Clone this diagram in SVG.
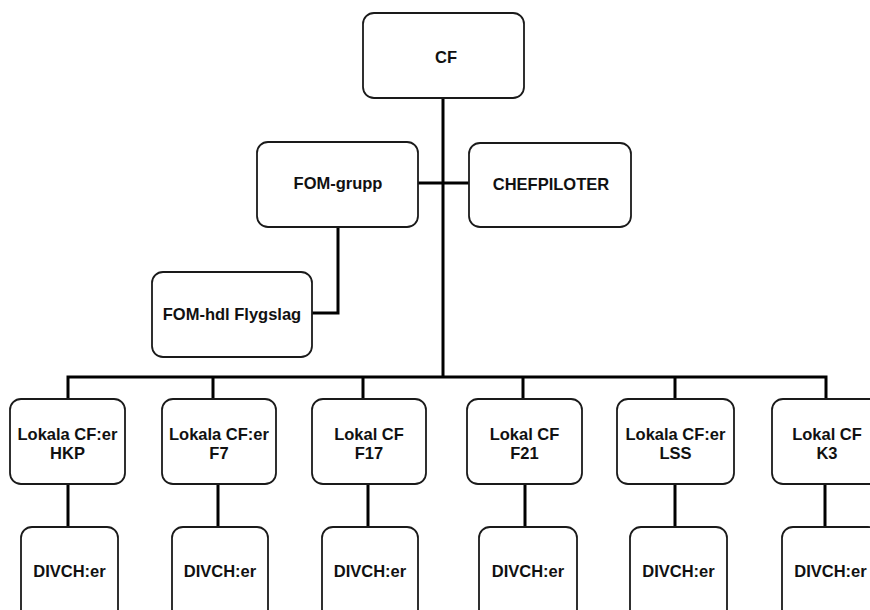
<svg xmlns="http://www.w3.org/2000/svg" width="870" height="610" viewBox="0 0 870 610">
<style>
.box{fill:#fff;stroke:#1a1a1a;stroke-width:1.8}
.lbl{font-family:"Liberation Sans",Arial,sans-serif;font-weight:bold;font-size:16.5px;fill:#111;text-anchor:middle}
.con{fill:none;stroke:#000;stroke-width:3}
</style>
<rect width="870" height="610" fill="#fff"/>
<g id="connectors">
<path class="con" d="M443 98V377"/>
<path class="con" d="M418 183H469"/>
<path class="con" d="M338 227V313H312"/>
<path class="con" d="M68 399V377H826V399"/>
<path class="con" d="M213 377V399M363 377V399M523 377V399M675 377V399"/>
<path class="con" d="M68 484V527M218 484V527M368 484V527M525 484V527M675 484V527M825 484V527"/>
</g>
<g id="cf"><rect class="box" x="363" y="13" width="161" height="85" rx="11"/><text class="lbl" x="446" y="63">CF</text></g>
<g id="fom-grupp"><rect class="box" x="257" y="142" width="161" height="85" rx="11"/><text class="lbl" x="338" y="189">FOM-grupp</text></g>
<g id="chefpiloter"><rect class="box" x="469" y="143" width="162" height="84" rx="11"/><text class="lbl" x="551" y="190">CHEFPILOTER</text></g>
<g id="fom-hdl"><rect class="box" x="152" y="272" width="160" height="85" rx="11"/><text class="lbl" x="232" y="320">FOM-hdl Flygslag</text></g>
<g id="lok-hkp"><rect class="box" x="10" y="399" width="115" height="85" rx="11"/><text class="lbl" x="67.5" y="440">Lokala CF:er</text><text class="lbl" x="67.5" y="459">HKP</text></g>
<g id="lok-f7"><rect class="box" x="162" y="399" width="114" height="85" rx="11"/><text class="lbl" x="219" y="440">Lokala CF:er</text><text class="lbl" x="219" y="459">F7</text></g>
<g id="lok-f17"><rect class="box" x="312" y="399" width="114" height="85" rx="11"/><text class="lbl" x="369" y="440">Lokal CF</text><text class="lbl" x="369" y="459">F17</text></g>
<g id="lok-f21"><rect class="box" x="467" y="399" width="115" height="85" rx="11"/><text class="lbl" x="524.5" y="440">Lokal CF</text><text class="lbl" x="524.5" y="459">F21</text></g>
<g id="lok-lss"><rect class="box" x="617" y="399" width="117" height="85" rx="11"/><text class="lbl" x="675.5" y="440">Lokala CF:er</text><text class="lbl" x="675.5" y="459">LSS</text></g>
<g id="lok-k3"><rect class="box" x="772" y="399" width="115" height="85" rx="11"/><text class="lbl" x="827" y="440">Lokal CF</text><text class="lbl" x="827" y="459">K3</text></g>
<g id="div-hkp"><rect class="box" x="21" y="527" width="97" height="100" rx="11"/><text class="lbl" x="69.5" y="577">DIVCH:er</text></g>
<g id="div-f7"><rect class="box" x="172" y="527" width="96" height="100" rx="11"/><text class="lbl" x="220" y="577">DIVCH:er</text></g>
<g id="div-f17"><rect class="box" x="322" y="527" width="96" height="100" rx="11"/><text class="lbl" x="370" y="577">DIVCH:er</text></g>
<g id="div-f21"><rect class="box" x="479" y="527" width="98" height="100" rx="11"/><text class="lbl" x="528" y="577">DIVCH:er</text></g>
<g id="div-lss"><rect class="box" x="630" y="527" width="97" height="100" rx="11"/><text class="lbl" x="678.5" y="577">DIVCH:er</text></g>
<g id="div-k3"><rect class="box" x="782" y="527" width="97" height="100" rx="11"/><text class="lbl" x="830.5" y="577">DIVCH:er</text></g>
</svg>
